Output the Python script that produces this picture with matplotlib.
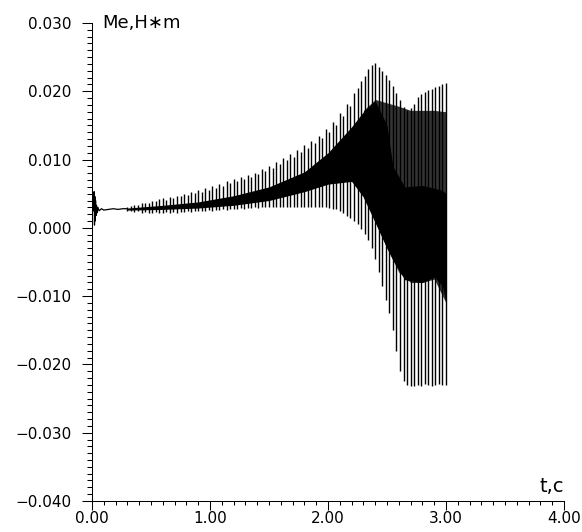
import numpy as np
import matplotlib
matplotlib.use("Agg")
import matplotlib.pyplot as plt
from matplotlib.ticker import MultipleLocator

# --- data ---
# start of the record (t < 0.3 s)
start_t = [0.015, 0.018, 0.021, 0.024, 0.027, 0.030, 0.034, 0.038, 0.044, 0.050,
           0.060, 0.080, 0.100, 0.140, 0.180, 0.220, 0.260, 0.300]
start_v = [0.0025, 0.0053, 0.0004, 0.0046, 0.0010, 0.0040, 0.0018, 0.0033, 0.0022, 0.0030,
           0.0025, 0.0028, 0.0026, 0.0027, 0.0028, 0.0027, 0.0028, 0.0028]

# one stroke per oscillation period, from t0 with step dt
t0 = 0.30
dt = 0.03
stroke_hi = [
    .0031, .0032, .0034, .0033, .0036, .0037, .0036, .0040, .0039, .0042,
    .0043, .0041, .0045, .0044, .0047, .0046, .0050, .0048, .0052, .0051,
    .0055, .0053, .0058, .0056, .0061, .0059, .0064, .0062, .0068, .0066,
    .0072, .0069, .0075, .0072, .0078, .0075, .0081, .0079, .0086, .0083,
    .0091, .0088, .0096, .0093, .0102, .0099, .0108, .0104, .0114, .0111,
    .0121, .0117, .0127, .0124, .0135, .0132, .0145, .0141, .0155, .0150,
    .0168, .0164, .0182, .0178, .0198, .0205, .0215, .0222, .0232, .0239,
    .0241, .0236, .0230, .0224, .0216, .0208, .0198, .0187, .0177, .0173,
    .0175, .0182, .0191, .0196, .0199, .0202, .0204, .0206, .0208, .0210, .0212]
stroke_lo = [
    .0025, .0024, .0023, .0024, .0022, .0023, .0022, .0022, .0023, .0022,
    .0022, .0023, .0022, .0023, .0022, .0023, .0023, .0024, .0023, .0024,
    .0024, .0025, .0024, .0026, .0025, .0026, .0026, .0027, .0026, .0027,
    .0028, .0027, .0029, .0028, .0029, .0029, .0030, .0029, .0030, .0030,
    .0030, .0031, .0030, .0031, .0031, .0030, .0031, .0030, .0031, .0030,
    .0031, .0030, .0031, .0030, .0031, .0030, .0030, .0029, .0028, .0027,
    .0024, .0022, .0018, .0015, .0010, .0005, -.0001, -.0009, -.0018, -.0030,
    -.0046, -.0065, -.0085, -.0105, -.0125, -.0150, -.0180, -.0210, -.0225, -.0230,
    -.0231, -.0232, -.0230, -.0231, -.0229, -.0230, -.0231, -.0230, -.0229, -.0230, -.0230]

# dense black core of the signal
core_t = [0.30, 0.60, 0.90, 1.20, 1.50, 1.80, 2.00, 2.20, 2.30, 2.40, 2.50, 2.55, 2.65, 2.80, 2.90, 2.97, 3.00]
core_hi = [0.0029, 0.0033, 0.0038, 0.0047, 0.0060, 0.0082, 0.0110, 0.0148, 0.0170, 0.0186,
           0.0150, 0.0090, 0.0060, 0.0062, 0.0058, 0.0055, 0.0050]
core_lo = [0.0026, 0.0027, 0.0029, 0.0033, 0.0040, 0.0053, 0.0064, 0.0068, 0.0045, 0.0008,
           -0.0030, -0.0047, -0.0076, -0.0080, -0.0072, -0.0085, -0.0110]

# dark striped band around the core at the end
mid_t = [2.30, 2.40, 2.50, 2.60, 2.70, 2.80, 2.90, 3.00]
mid_hi = [0.0172, 0.0188, 0.0183, 0.0178, 0.0172, 0.0172, 0.0172, 0.0170]
mid_lo = [0.0045, 0.0008, -0.0030, -0.0065, -0.0080, -0.0080, -0.0075, -0.0110]

x_ticks = [0, 1, 2, 3, 4]
x_labels = ["0.00", "1.00", "2.00", "3.00", "4.00"]
y_ticks = [-0.04, -0.03, -0.02, -0.01, 0.0, 0.01, 0.02, 0.03]
y_labels = ["\u22120.040", "\u22120.030", "\u22120.020", "\u22120.010",
            "0.000", "0.010", "0.020", "0.030"]

fig = plt.figure(figsize=(5.82, 5.32), dpi=100)
ax = fig.add_axes([0.1581, 0.0583, 0.811, 0.8985])

stroke_t = t0 + dt * np.arange(len(stroke_hi))

ax.fill_between(mid_t, mid_lo, mid_hi, color="0.2", lw=0)
ax.fill_between(core_t, core_lo, core_hi, color="black", lw=0)
ax.vlines(stroke_t, stroke_lo, stroke_hi, colors="black", lw=1.0)
ax.plot(start_t, start_v, color="black", lw=0.9)

ax.set_xlim(0, 4)
ax.set_ylim(-0.04, 0.03)

for s in ["top", "right"]:
    ax.spines[s].set_visible(False)
for s in ["left", "bottom"]:
    ax.spines[s].set_linewidth(0.75)

ax.set_xticks(x_ticks)
ax.set_xticklabels(x_labels)
ax.set_yticks(y_ticks)
ax.set_yticklabels(y_labels)
ax.xaxis.set_minor_locator(MultipleLocator(0.1))
ax.yaxis.set_minor_locator(MultipleLocator(0.001))

ax.tick_params(axis="x", which="major", length=6.5, width=0.75, pad=0.5, labelsize=11)
ax.tick_params(axis="x", which="minor", length=3, width=0.75)
ax.tick_params(axis="y", which="major", length=7, width=0.75, pad=8, labelsize=11)
ax.tick_params(axis="y", which="minor", length=3.6, width=0.75)

ax.text(0.021, 1.0, "Me,H\u2217m", transform=ax.transAxes, ha="left", va="center", fontsize=13)
ax.text(0.975, 0.03, "t,c", transform=ax.transAxes, ha="center", va="center", fontsize=14)

fig.savefig("out.png", dpi=100)
